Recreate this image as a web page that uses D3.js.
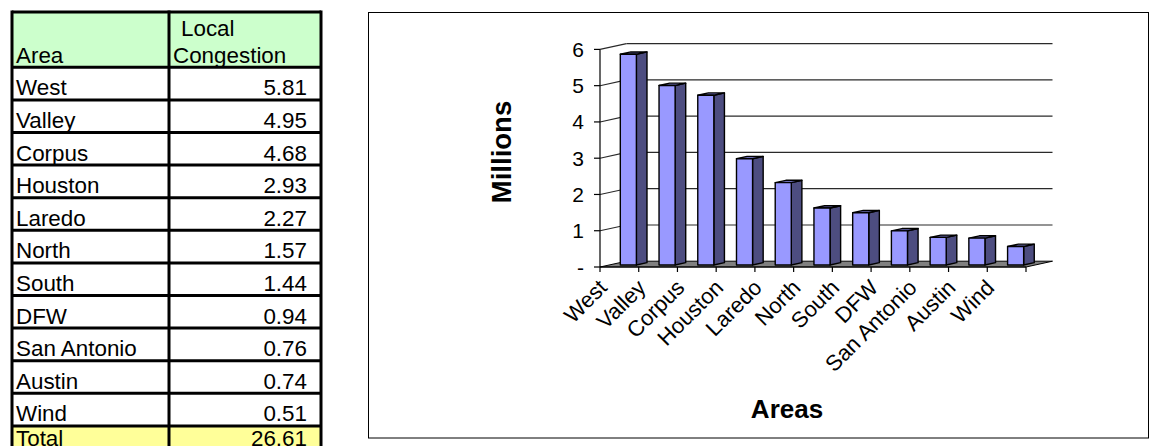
<!DOCTYPE html>
<html>
<head>
<meta charset="utf-8">
<script src="https://cdn.jsdelivr.net/npm/d3@7/dist/d3.min.js"></script>
<style>
  html, body { margin: 0; padding: 0; background: #fff; }
  svg { display: block; font-family: "Liberation Sans", Arial, sans-serif; }
</style>
</head>
<body>
<svg id="view" width="1162" height="446"></svg>
<script>
// Local congestion cost by area (millions)
const areas = ["West", "Valley", "Corpus", "Houston", "Laredo", "North", "South", "DFW", "San Antonio", "Austin", "Wind"];
const congestion = [5.81, 4.95, 4.68, 2.93, 2.27, 1.57, 1.44, 0.94, 0.76, 0.74, 0.51];
const totalLabel = "26.61";
const yTickValues = [0, 1, 2, 3, 4, 5, 6];
const yTickLabels = ["-", "1", "2", "3", "4", "5", "6"];
const tableHeader = ["Area", ["Local", "Congestion"]];

const svg = d3.select("#view");

// ---------- Table ----------
const tbl = svg.append("g").attr("class", "table");
const colX = [12, 169, 321];
const headTop = 12, headBottom = 67.3, rowH = 32.6;
const rowY = d3.range(areas.length + 2).map(k => headBottom + k * rowH);

tbl.append("rect").attr("x", colX[0]).attr("y", headTop)
  .attr("width", colX[2] - colX[0]).attr("height", headBottom - headTop)
  .attr("fill", "#ccffcc");
tbl.append("rect").attr("x", colX[0]).attr("y", rowY[areas.length])
  .attr("width", colX[2] - colX[0]).attr("height", rowH)
  .attr("fill", "#ffff99");

const fmt = d3.format(".2f");
const rows = areas.map((a, i) => ({ name: a, value: fmt(congestion[i]) }));
rows.push({ name: "Total", value: totalLabel });

const cellFont = 22.4;
// baseline of each row; the total row sits a little higher in its cell
const baseY = i => i < areas.length ? rowY[i + 1] - 4.5 : rowY[i] + 20.5;
tbl.selectAll("text.name").data(rows).join("text")
  .attr("class", "name")
  .attr("x", 16)
  .attr("y", (d, i) => baseY(i))
  .attr("font-size", cellFont)
  .attr("fill", "#000")
  .text(d => d.name);
tbl.selectAll("text.val").data(rows).join("text")
  .attr("class", "val")
  .attr("x", 307)
  .attr("y", (d, i) => baseY(i))
  .attr("font-size", cellFont)
  .attr("text-anchor", "end")
  .attr("fill", "#000")
  .text(d => d.value);

tbl.append("text").attr("x", 16).attr("y", headBottom - 4.5)
  .attr("font-size", cellFont).text(tableHeader[0]);
tbl.append("text").attr("x", 181).attr("y", headBottom - 31.5)
  .attr("font-size", cellFont).text(tableHeader[1][0]);
tbl.append("text").attr("x", 173).attr("y", headBottom - 4.5)
  .attr("font-size", cellFont).text(tableHeader[1][1]);

// grid lines of the table
const lineStyle = sel => sel.attr("stroke", "#000").attr("stroke-width", 3);
rowY.forEach(yy => {
  tbl.append("line").attr("x1", colX[0]).attr("x2", colX[2])
    .attr("y1", yy).attr("y2", yy).call(lineStyle);
});
tbl.append("line").attr("x1", colX[0]).attr("x2", colX[2])
  .attr("y1", headTop).attr("y2", headTop).call(lineStyle);
colX.forEach(xx => {
  tbl.append("line").attr("x1", xx).attr("x2", xx)
    .attr("y1", headTop - 1.5).attr("y2", 460).call(lineStyle);
});

// ---------- Chart ----------
svg.append("rect").attr("x", 368.5).attr("y", 12.5)
  .attr("width", 780).attr("height", 425.5)
  .attr("fill", "none").attr("stroke", "#000").attr("stroke-width", 1);

const x = d3.scaleBand().domain(areas).range([600, 1026]).paddingInner(0).paddingOuter(0);
const y = d3.scaleLinear().domain([0, 6]).range([267, 49.4]);
const DX = 26.5, DY = -5.8;          // full depth of the 3D box
const zf0 = 0.35, zf1 = 0.75;         // depth span occupied by the columns

const chart = svg.append("g").attr("class", "chart");

// floor
const x0 = x.range()[0], x1 = x.range()[1], yb = y(0);
chart.append("polygon")
  .attr("points", [[x0, yb], [x1, yb], [x1 + DX, yb + DY], [x0 + DX, yb + DY]].map(p => p.join(",")).join(" "))
  .attr("fill", "#808080").attr("stroke", "#000").attr("stroke-width", 1);

// back wall gridlines and side-wall diagonals
yTickValues.filter(t => t > 0).forEach(t => {
  chart.append("line")
    .attr("x1", x0 + DX).attr("x2", x1 + DX)
    .attr("y1", y(t) + DY).attr("y2", y(t) + DY)
    .attr("stroke", "#2a2a2a").attr("stroke-width", 1.1);
  chart.append("line")
    .attr("x1", x0).attr("x2", x0 + DX)
    .attr("y1", y(t)).attr("y2", y(t) + DY)
    .attr("stroke", "#2a2a2a").attr("stroke-width", 1.1);
});

// front value axis
chart.append("line").attr("x1", x0).attr("x2", x0).attr("y1", y(0)).attr("y2", y(6))
  .attr("stroke", "#000").attr("stroke-width", 1.2);
yTickValues.forEach((t, i) => {
  chart.append("line").attr("x1", x0 - 6).attr("x2", x0).attr("y1", y(t)).attr("y2", y(t))
    .attr("stroke", "#000").attr("stroke-width", 1.2);
  chart.append("text").attr("x", 584).attr("y", y(t))
    .attr("dy", "0.36em").attr("text-anchor", "end")
    .attr("font-size", 21).text(yTickLabels[i]);
});

// front category axis with ticks at band edges
chart.append("line").attr("x1", x0).attr("x2", x1).attr("y1", yb).attr("y2", yb)
  .attr("stroke", "#000").attr("stroke-width", 1.2);
d3.range(areas.length + 1).forEach(k => {
  const tx = x0 + k * x.bandwidth();
  chart.append("line").attr("x1", tx).attr("x2", tx).attr("y1", yb).attr("y2", yb + 5)
    .attr("stroke", "#000").attr("stroke-width", 1.2);
});

// 3D columns
const bw = x.bandwidth();
const gapL = 0.285 * bw, faceW = 0.415 * bw;
const ox = zf0 * DX, oy = zf0 * DY;
const ddx = (zf1 - zf0) * DX, ddy = (zf1 - zf0) * DY;
const pts = arr => arr.map(p => p.join(",")).join(" ");

const bars = chart.selectAll("g.bar").data(areas.map((a, i) => ({ a, v: congestion[i] })))
  .join("g").attr("class", "bar");
bars.each(function (d) {
  const g = d3.select(this);
  const fx = x(d.a) + gapL + ox;
  const top = y(d.v) + oy, base = y(0) + oy;
  g.append("polygon")
    .attr("points", pts([[fx + faceW, top], [fx + faceW + ddx, top + ddy], [fx + faceW + ddx, base + ddy], [fx + faceW, base]]))
    .attr("fill", "#4d4d80");
  g.append("polygon")
    .attr("points", pts([[fx, top], [fx + ddx, top + ddy], [fx + faceW + ddx, top + ddy], [fx + faceW, top]]))
    .attr("fill", "#6b6bb3");
  g.append("rect").attr("x", fx).attr("y", top).attr("width", faceW).attr("height", base - top)
    .attr("fill", "#9999ff");
  g.selectAll("polygon, rect").attr("stroke", "#000").attr("stroke-width", 1.4).attr("stroke-linejoin", "round");
});

// category labels, rotated
chart.selectAll("text.cat").data(areas).join("text")
  .attr("class", "cat")
  .attr("transform", d => `translate(${x(d) + bw / 2 - 11},${yb + 22}) rotate(-45)`)
  .attr("text-anchor", "end")
  .attr("font-size", 22)
  .text(d => d);

// axis titles
chart.append("text").attr("transform", "translate(511,152) rotate(-90)")
  .attr("text-anchor", "middle").attr("font-size", 27.5).attr("font-weight", "bold")
  .text("Millions");
chart.append("text").attr("x", 787).attr("y", 418)
  .attr("text-anchor", "middle").attr("font-size", 26).attr("font-weight", "bold")
  .text("Areas");
</script>
</body>
</html>
